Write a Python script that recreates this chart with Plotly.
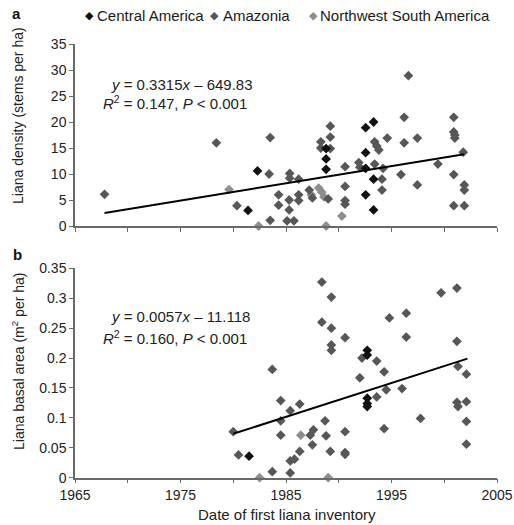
import plotly.graph_objects as go

# ---------------- Data: panel a (liana density, stems per ha) ----------------
ca_a_year = [1981.4, 1982.3, 1988.8, 1988.8, 1988.8, 1992.55, 1993.3, 1992.55, 1992.55, 1992.55, 1993.3, 1993.3]
ca_a_val = [3, 10.6, 14.9, 12.9, 10.9, 18.9, 20, 14.1, 11.1, 6, 9, 3.1]

am_a_year = [1967.8, 1978.4, 1980.35, 1983.4, 1983.5, 1983.5, 1984.3, 1984.3, 1985.35, 1985.35,
             1985.3, 1985.3, 1985.1, 1985.75, 1986.2, 1986.2, 1986.2, 1987.2, 1987.5, 1988.3,
             1988.3, 1989.0, 1989.2, 1989.2, 1989.2, 1990.6, 1990.6, 1990.6, 1990.6, 1991.9,
             1992.0, 1993.4, 1993.6, 1993.8, 1993.4, 1994.1, 1994.1, 1994.2, 1994.6, 1995.9,
             1996.2, 1996.2, 1996.6, 1997.45, 1997.45, 1999.4, 2000.9, 2000.9, 2001.0, 2001.0,
             2000.9, 2000.9, 2001.9, 2001.8, 2001.9, 2001.9]
am_a_val = [6.1, 16, 3.9, 10, 17, 1.1, 6, 4, 10.1, 9.2,
            5, 3.1, 1, 1, 9, 6, 4.9, 6.9, 5.4, 16.2,
            15, 5.2, 19.2, 17.1, 14.9, 11.4, 7.6, 4.9, 4.2, 12.2,
            11.3, 16.2, 15.4, 14.6, 11.9, 9, 6.9, 11.1, 16.9, 9.9,
            20.9, 16, 28.9, 16.9, 7.9, 11.9, 20.9, 18.1, 17.5, 16.9,
            9.9, 3.9, 3.9, 14.2, 7.9, 6.9]

nw_a_year = [1979.6, 1982.4, 1987.4, 1988.1, 1988.4, 1988.6, 1988.8, 1990.3]
nw_a_val = [7, 0, 6, 7.3, 6.5, 5.6, 0, 1.9]

trend_a_year = [1967.8, 2001.9]
trend_a_slope = 0.3315
trend_a_intercept = -649.83

# ---------------- Data: panel b (liana basal area, m2 per ha) ----------------
ca_b_year = [1981.5, 1992.7, 1992.7, 1992.7, 1992.7, 1992.7]
ca_b_val = [0.036, 0.213, 0.205, 0.133, 0.124, 0.119]

am_b_year = [1980.0, 1980.5, 1983.7, 1983.7, 1984.5, 1984.5, 1984.5, 1985.4, 1985.4, 1985.8,
             1985.4, 1986.3, 1986.3, 1987.3, 1987.6, 1987.5, 1988.4, 1988.4, 1989.3, 1989.3,
             1989.3, 1989.3, 1988.7, 1988.8, 1989.2, 1990.6, 1990.6, 1990.6, 1990.6, 1992.0,
             1992.2, 1993.6, 1993.6, 1994.3, 1994.3, 1994.5, 1994.8, 1996.0, 1996.4, 1996.4,
             1997.75, 1999.7, 2001.2, 2001.2, 2001.3, 2001.2, 2001.3, 2002.1, 2002.1, 2002.1,
             2002.1]
am_b_val = [0.077, 0.038, 0.181, 0.01, 0.129, 0.095, 0.071, 0.112, 0.028, 0.031,
            0.008, 0.123, 0.044, 0.071, 0.08, 0.055, 0.327, 0.26, 0.302, 0.25,
            0.222, 0.213, 0.095, 0.07, 0.044, 0.234, 0.077, 0.042, 0.039, 0.167,
            0.2, 0.195, 0.135, 0.177, 0.082, 0.147, 0.267, 0.149, 0.275, 0.235,
            0.099, 0.309, 0.317, 0.228, 0.186, 0.126, 0.119, 0.173, 0.127, 0.094,
            0.056]

nw_b_year = [1982.5, 1986.4, 1989.0]
nw_b_val = [0.0, 0.071, 0.0]

trend_b_year = [1980.0, 2002.2]
trend_b_val = [0.0735, 0.199]

x_ticks = [1965, 1970, 1975, 1980, 1985, 1990, 1995, 2000, 2005]
x_ticklabels = ["1965", "", "1975", "", "1985", "", "1995", "", "2005"]
ya_ticks = [0, 5, 10, 15, 20, 25, 30, 35]
yb_ticks = [0, 0.05, 0.1, 0.15, 0.2, 0.25, 0.3, 0.35]
yb_ticklabels = ["0", "0.05", "0.1", "0.15", "0.2", "0.25", "0.3", "0.35"]

series_names = ["Central America", "Amazonia", "Northwest South America"]
series_colors = ["#111111", "#575757", "#8e8e8e"]

# ---------------- Figure ----------------
W, H = 514, 525
FONT = "Liberation Sans, Arial, sans-serif"
AXC = "#6a6a6a"
TXT = "#222222"
MSIZE = 7.5

fig = go.Figure()

panel_a = [(ca_a_year, ca_a_val), (am_a_year, am_a_val), (nw_a_year, nw_a_val)]
panel_b = [(ca_b_year, ca_b_val), (am_b_year, am_b_val), (nw_b_year, nw_b_val)]

# lighter series first so black stays on top
for i in [2, 1, 0]:
    xs, ys = panel_a[i]
    fig.add_trace(go.Scatter(x=xs, y=ys, mode="markers", name=series_names[i], showlegend=False,
                             marker=dict(symbol="diamond", size=MSIZE, color=series_colors[i]),
                             cliponaxis=False, xaxis="x", yaxis="y"))
for i in [2, 1, 0]:
    xs, ys = panel_b[i]
    fig.add_trace(go.Scatter(x=xs, y=ys, mode="markers", name=series_names[i], showlegend=False,
                             marker=dict(symbol="diamond", size=MSIZE, color=series_colors[i]),
                             cliponaxis=False, xaxis="x2", yaxis="y2"))

trend_a_val = [trend_a_slope * x + trend_a_intercept for x in trend_a_year]
fig.add_trace(go.Scatter(x=trend_a_year, y=trend_a_val, mode="lines", showlegend=False,
                         line=dict(color="black", width=2), xaxis="x", yaxis="y"))
fig.add_trace(go.Scatter(x=trend_b_year, y=trend_b_val, mode="lines", showlegend=False,
                         line=dict(color="black", width=2), xaxis="x2", yaxis="y2"))

xdom = [75 / W, 497 / W]
ya_dom = [(H - 226) / H, (H - 44) / H]
yb_dom = [(H - 477.7) / H, (H - 268.3) / H]

axis_common = dict(showline=True, linecolor=AXC, linewidth=1.5, ticks="outside",
                   ticklen=4, tickwidth=1.2, tickcolor=AXC, showgrid=False, zeroline=False,
                   automargin=False,
                   tickfont=dict(family=FONT, size=14, color=TXT))

fig.update_layout(
    width=W, height=H,
    margin=dict(l=0, r=0, t=0, b=0, pad=0, autoexpand=False),
    paper_bgcolor="white", plot_bgcolor="white",
    font=dict(family=FONT, size=14, color=TXT),
    showlegend=False,
    xaxis=dict(domain=xdom, range=[1965, 2005], anchor="y", tickvals=x_ticks,
               showticklabels=False, **axis_common),
    yaxis=dict(domain=ya_dom, range=[0, 35], anchor="x", tickvals=ya_ticks, **axis_common),
    xaxis2=dict(domain=xdom, range=[1965, 2005], anchor="y2", tickvals=x_ticks,
                ticktext=x_ticklabels, **axis_common),
    yaxis2=dict(domain=yb_dom, range=[0, 0.35], anchor="x2", tickvals=yb_ticks,
                ticktext=yb_ticklabels, **axis_common),
)

ann = []
def add_text(px, py, text, size=14, color=TXT, **kw):
    d = dict(x=px / W, y=1 - py / H, xref="paper", yref="paper", text=text, showarrow=False,
             font=dict(family=FONT, size=size, color=color))
    d.update(kw)
    ann.append(d)

# legend (symbol glyph + label for each region)
legend_sym_x = [83, 208, 307]
legend_txt_x = [95, 221, 318]
for i in range(3):
    add_text(legend_sym_x[i], 15, "\u25C6", size=11, color=series_colors[i],
             xanchor="left", yanchor="middle")
    add_text(legend_txt_x[i], 15, series_names[i], size=15, color="#1a1a1a",
             xanchor="left", yanchor="middle")

add_text(10, 14, "<b>a</b>", size=15, color="#111111", xanchor="left", yanchor="middle")
add_text(11, 254, "<b>b</b>", size=15, color="#111111", xanchor="left", yanchor="middle")
add_text(109, 84, "<i>y</i> = 0.3315<i>x</i> – 649.83", size=15, xanchor="left", yanchor="middle")
add_text(101, 102, "<i>R</i><sup>2</sup> = 0.147, <i>P</i> &lt; 0.001", size=15, xanchor="left", yanchor="middle")
add_text(109, 316, "<i>y</i> = 0.0057<i>x</i> – 11.118", size=15, xanchor="left", yanchor="middle")
add_text(101, 337, "<i>R</i><sup>2</sup> = 0.160, <i>P</i> &lt; 0.001", size=15, xanchor="left", yanchor="middle")
add_text(18, 116, "Liana density (stems per ha)", size=14, textangle=-90,
         xanchor="center", yanchor="middle")
add_text(18, 362, "Liana basal area (m<sup>2</sup> per ha)", size=14, textangle=-90,
         xanchor="center", yanchor="middle")
add_text(287, 514, "Date of first liana inventory", size=15,
         xanchor="center", yanchor="middle")
fig.update_layout(annotations=ann)

fig.write_html("out.html", config={"displayModeBar": False},
               post_script="document.body.style.margin='0';document.body.style.overflow='hidden';")
